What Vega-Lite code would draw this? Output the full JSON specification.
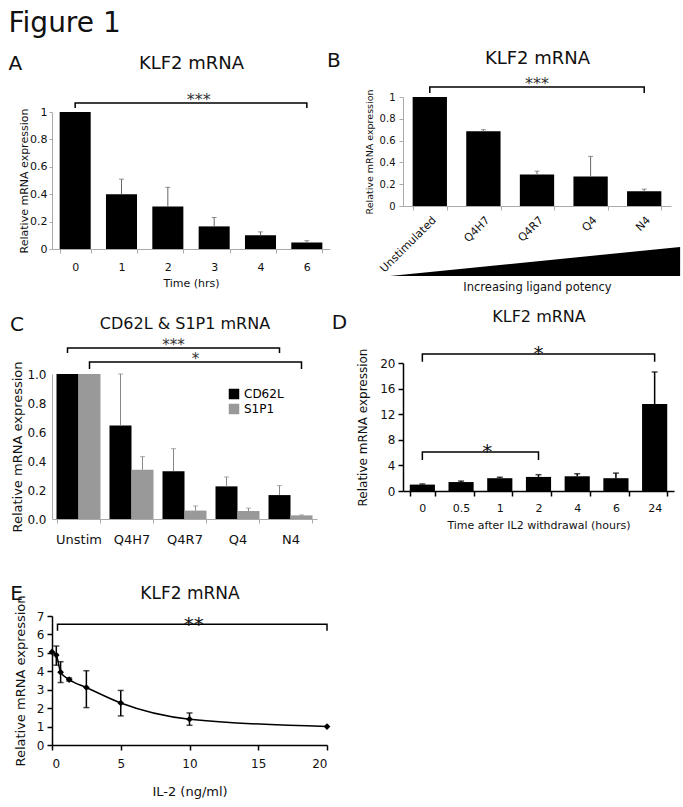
{
  "$schema": "https://vega.github.io/schema/vega-lite/v6.json",
  "background": "white",
  "padding": {"left": 8, "top": 10, "right": 5, "bottom": 5},
  "title": {"text": "Figure 1", "anchor": "start", "fontSize": 28, "offset": 11, "fontWeight": "normal", "color": "#111"},
  "config": {
    "font": "DejaVu Sans",
    "view": {"stroke": null},
    "axis": {"grid": false, "titleFontWeight": "normal", "labelColor": "#111", "titleColor": "#111", "domainColor": "#aaaaaa", "tickColor": "#aaaaaa", "labelOverlap": false},
    "title": {"fontWeight": "normal", "color": "#111"}
  },
  "datasets": {
    "a": [{"t": "0", "v": 1.0}, {"t": "1", "v": 0.40, "hi": 0.51}, {"t": "2", "v": 0.31, "hi": 0.45}, {"t": "3", "v": 0.165, "hi": 0.23}, {"t": "4", "v": 0.10, "hi": 0.125}, {"t": "6", "v": 0.048, "hi": 0.06}],
    "aBr": [{"t": "0", "v": 1.03, "o": 1}, {"t": "0", "v": 1.066, "o": 2}, {"t": "6", "v": 1.066, "o": 3}, {"t": "6", "v": 1.03, "o": 4}],
    "aTx": [{"t": "3", "v": 1.066, "s": "***"}],
    "b": [{"t": "Unstimulated", "v": 1.0}, {"t": "Q4H7", "v": 0.685, "hi": 0.70}, {"t": "Q4R7", "v": 0.29, "hi": 0.32}, {"t": "Q4", "v": 0.27, "hi": 0.455}, {"t": "N4", "v": 0.135, "hi": 0.155}],
    "bBr": [{"t": "Unstimulated", "v": 1.037, "o": 1}, {"t": "Unstimulated", "v": 1.092, "o": 2}, {"t": "N4", "v": 1.092, "o": 3}, {"t": "N4", "v": 1.037, "o": 4}],
    "bTx": [{"t": "Q4R7", "v": 1.092, "s": "***"}],
    "tri": [{"p": -0.0485, "top": -0.642, "bot": -0.642}, {"p": 1.034, "top": -0.376, "bot": -0.642}],
    "c": [
      {"g": "Unstim", "s": "CD62L", "v": 1.0}, {"g": "Q4H7", "s": "CD62L", "v": 0.645, "hi": 1.0}, {"g": "Q4R7", "s": "CD62L", "v": 0.33, "hi": 0.485}, {"g": "Q4", "s": "CD62L", "v": 0.225, "hi": 0.29}, {"g": "N4", "s": "CD62L", "v": 0.165, "hi": 0.23},
      {"g": "Unstim", "s": "S1P1", "v": 1.0}, {"g": "Q4H7", "s": "S1P1", "v": 0.34, "hi": 0.43}, {"g": "Q4R7", "s": "S1P1", "v": 0.058, "hi": 0.09}, {"g": "Q4", "s": "S1P1", "v": 0.055, "hi": 0.075}, {"g": "N4", "s": "S1P1", "v": 0.025, "hi": 0.028}
    ],
    "cBr": [
      {"b": 1, "g": "Unstim", "s": "CD62L", "v": 1.145, "o": 1}, {"b": 1, "g": "Unstim", "s": "CD62L", "v": 1.179, "o": 2}, {"b": 1, "g": "N4", "s": "CD62L", "v": 1.179, "o": 3}, {"b": 1, "g": "N4", "s": "CD62L", "v": 1.145, "o": 4},
      {"b": 2, "g": "Unstim", "s": "S1P1", "v": 1.034, "o": 1}, {"b": 2, "g": "Unstim", "s": "S1P1", "v": 1.083, "o": 2}, {"b": 2, "g": "N4", "s": "S1P1", "v": 1.083, "o": 3}, {"b": 2, "g": "N4", "s": "S1P1", "v": 1.034, "o": 4}
    ],
    "cTx": [{"g": "Q4R7", "s": "CD62L", "v": 1.179, "x": "***"}, {"g": "Q4R7", "s": "S1P1", "v": 1.083, "x": "*"}],
    "d": [{"t": "0", "v": 1.0, "hi": 1.1}, {"t": "0.5", "v": 1.4, "hi": 1.55}, {"t": "1", "v": 2.0, "hi": 2.15}, {"t": "2", "v": 2.2, "hi": 2.55}, {"t": "4", "v": 2.3, "hi": 2.7}, {"t": "6", "v": 2.0, "hi": 2.8}, {"t": "24", "v": 13.6, "hi": 18.6}],
    "dBr": [
      {"b": 1, "t": "0", "v": 20.2, "o": 1}, {"b": 1, "t": "0", "v": 21.4, "o": 2}, {"b": 1, "t": "24", "v": 21.4, "o": 3}, {"b": 1, "t": "24", "v": 20.2, "o": 4},
      {"b": 2, "t": "0", "v": 4.85, "o": 1}, {"b": 2, "t": "0", "v": 6.1, "o": 2}, {"b": 2, "t": "2", "v": 6.1, "o": 3}, {"b": 2, "t": "2", "v": 4.85, "o": 4}
    ],
    "dTx1": [{"t": "2", "v": 21.4, "s": "*"}],
    "dTx2": [{"t": "1", "v": 6.1, "s": "*"}],
    "e": [
      {"x": 0, "v": 5.05}, {"x": 0.3125, "v": 4.88, "lo": 4.33, "hi": 5.37}, {"x": 0.625, "v": 3.95, "lo": 3.39, "hi": 4.52}, {"x": 1.25, "v": 3.55, "lo": 3.47, "hi": 3.64},
      {"x": 2.5, "v": 3.12, "lo": 2.03, "hi": 4.03}, {"x": 5, "v": 2.28, "lo": 1.58, "hi": 2.96}, {"x": 10, "v": 1.40, "lo": 1.07, "hi": 1.74}, {"x": 20, "v": 1.0}
    ],
    "eBr": [{"x": 0.4, "v": 6.2, "o": 1}, {"x": 0.4, "v": 6.55, "o": 2}, {"x": 20, "v": 6.55, "o": 3}, {"x": 20, "v": 6.2, "o": 4}],
    "eTx": [{"x": 10.3, "v": 6.55, "s": "**"}]
  },
  "columns": 2,
  "bounds": "flush",
  "align": "each",
  "spacing": {"row": 97, "column": 73},
  "concat": [
    {
      "width": 278, "height": 152,
      "title": {"text": "A", "anchor": "start", "frame": "bounds", "fontSize": 20, "offset": -20, "dx": -10},
      "layer": [
        {"data": {"name": "a"}, "mark": {"type": "bar", "color": "black"},
         "encoding": {
           "x": {"field": "t", "type": "ordinal", "scale": {"domain": ["0", "1", "2", "3", "4", "6"], "paddingInner": 0.33, "paddingOuter": 0.165},
                 "axis": {"orient": "bottom", "title": "Time (hrs)", "labelAngle": 0, "labelFontSize": 11, "titleFontSize": 11, "tickBand": "extent", "tickSize": 4, "labelPadding": 8, "titlePadding": 5}},
           "y": {"field": "v", "type": "quantitative", "title": "Relative mRNA expression", "scale": {"domain": [0, 1], "range": [152, 15]},
                 "axis": {"values": [0, 0.2, 0.4, 0.6, 0.8, 1], "format": "~g", "labelFontSize": 11, "titleFontSize": 11, "tickSize": 3, "labelPadding": 2, "titlePadding": 0}}}},
        {"data": {"name": "a"}, "transform": [{"filter": "isValid(datum.hi)"}], "mark": {"type": "rule", "color": "#666666", "strokeWidth": 1},
         "encoding": {"x": {"field": "t", "type": "ordinal", "axis": null}, "y": {"field": "v", "type": "quantitative", "title": "Relative mRNA expression", "axis": {"values": [0, 0.2, 0.4, 0.6, 0.8, 1], "format": "~g", "labelFontSize": 11, "titleFontSize": 11, "tickSize": 3, "labelPadding": 2, "titlePadding": 0}}, "y2": {"field": "hi"}}},
        {"data": {"name": "a"}, "transform": [{"filter": "isValid(datum.hi)"}], "mark": {"type": "tick", "orient": "horizontal", "color": "#666666", "thickness": 1, "size": 5},
         "encoding": {"x": {"field": "t", "type": "ordinal", "axis": null}, "y": {"field": "hi", "type": "quantitative", "title": "Relative mRNA expression", "axis": {"values": [0, 0.2, 0.4, 0.6, 0.8, 1], "format": "~g", "labelFontSize": 11, "titleFontSize": 11, "tickSize": 3, "labelPadding": 2, "titlePadding": 0}}}},
        {"data": {"name": "aBr"}, "mark": {"type": "line", "color": "black", "strokeWidth": 1.5},
         "encoding": {"x": {"field": "t", "type": "ordinal", "axis": null}, "y": {"field": "v", "type": "quantitative", "title": "Relative mRNA expression", "axis": {"values": [0, 0.2, 0.4, 0.6, 0.8, 1], "format": "~g", "labelFontSize": 11, "titleFontSize": 11, "tickSize": 3, "labelPadding": 2, "titlePadding": 0}}, "order": {"field": "o"}}},
        {"data": {"name": "aTx"}, "mark": {"type": "text", "fontSize": 16, "baseline": "alphabetic", "dy": 2, "color": "#333333"},
         "encoding": {"x": {"field": "t", "type": "ordinal", "bandPosition": 0,
                            "axis": {"orient": "top", "title": "KLF2 mRNA", "labels": false, "ticks": false, "domain": false, "titleFontSize": 18, "titlePadding": 25}},
                      "y": {"field": "v", "type": "quantitative", "title": "Relative mRNA expression", "axis": {"values": [0, 0.2, 0.4, 0.6, 0.8, 1], "format": "~g", "labelFontSize": 11, "titleFontSize": 11, "tickSize": 3, "labelPadding": 2, "titlePadding": 0}}, "text": {"field": "s"}}}
      ],
      "resolve": {"axis": {"x": "independent"}}
    },
    {
      "width": 268, "height": 109,
      "title": {"text": "B", "anchor": "start", "frame": "bounds", "fontSize": 20, "offset": -22, "dx": -37},
      "layer": [
        {"data": {"name": "b"}, "mark": {"type": "bar", "color": "black"},
         "encoding": {
           "x": {"field": "t", "type": "ordinal", "scale": {"domain": ["Unstimulated", "Q4H7", "Q4R7", "Q4", "N4"], "paddingInner": 0.36, "paddingOuter": 0.18},
                 "axis": {"orient": "bottom", "title": "Increasing ligand potency", "labelAngle": -45, "labelFontSize": 11, "titleFontSize": 11.5, "tickBand": "extent", "tickSize": 4, "labelPadding": 4, "titlePadding": 8}},
           "y": {"field": "v", "type": "quantitative", "title": "Relative mRNA expression", "scale": {"domain": [0, 1]},
                 "axis": {"values": [0, 0.2, 0.4, 0.6, 0.8, 1], "format": "~g", "labelFontSize": 10, "titleFontSize": 9.5, "tickSize": 4, "labelPadding": 4, "titlePadding": 5}}}},
        {"data": {"name": "b"}, "transform": [{"filter": "isValid(datum.hi)"}], "mark": {"type": "rule", "color": "#666666", "strokeWidth": 1},
         "encoding": {"x": {"field": "t", "type": "ordinal", "scale": {"domain": ["Unstimulated", "Q4H7", "Q4R7", "Q4", "N4"], "paddingInner": 0.36, "paddingOuter": 0.18}, "axis": null}, "y": {"field": "v", "type": "quantitative", "title": "Relative mRNA expression", "axis": {"values": [0, 0.2, 0.4, 0.6, 0.8, 1], "format": "~g", "labelFontSize": 10, "titleFontSize": 9.5, "tickSize": 4, "labelPadding": 4, "titlePadding": 5}}, "y2": {"field": "hi"}}},
        {"data": {"name": "b"}, "transform": [{"filter": "isValid(datum.hi)"}], "mark": {"type": "tick", "orient": "horizontal", "color": "#666666", "thickness": 1, "size": 5},
         "encoding": {"x": {"field": "t", "type": "ordinal", "scale": {"domain": ["Unstimulated", "Q4H7", "Q4R7", "Q4", "N4"], "paddingInner": 0.36, "paddingOuter": 0.18}, "axis": null}, "y": {"field": "hi", "type": "quantitative", "title": "Relative mRNA expression", "axis": {"values": [0, 0.2, 0.4, 0.6, 0.8, 1], "format": "~g", "labelFontSize": 10, "titleFontSize": 9.5, "tickSize": 4, "labelPadding": 4, "titlePadding": 5}}}},
        {"data": {"name": "bBr"}, "mark": {"type": "line", "color": "black", "strokeWidth": 1.5},
         "encoding": {"x": {"field": "t", "type": "ordinal", "scale": {"domain": ["Unstimulated", "Q4H7", "Q4R7", "Q4", "N4"], "paddingInner": 0.36, "paddingOuter": 0.18}, "axis": null}, "y": {"field": "v", "type": "quantitative", "title": "Relative mRNA expression", "axis": {"values": [0, 0.2, 0.4, 0.6, 0.8, 1], "format": "~g", "labelFontSize": 10, "titleFontSize": 9.5, "tickSize": 4, "labelPadding": 4, "titlePadding": 5}}, "order": {"field": "o"}}},
        {"data": {"name": "bTx"}, "mark": {"type": "text", "fontSize": 16, "baseline": "alphabetic", "dy": 2, "color": "#333333"},
         "encoding": {"x": {"field": "t", "type": "ordinal", "scale": {"domain": ["Unstimulated", "Q4H7", "Q4R7", "Q4", "N4"], "paddingInner": 0.36, "paddingOuter": 0.18}, "axis": null}, "y": {"field": "v", "type": "quantitative", "title": "Relative mRNA expression", "axis": {"values": [0, 0.2, 0.4, 0.6, 0.8, 1], "format": "~g", "labelFontSize": 10, "titleFontSize": 9.5, "tickSize": 4, "labelPadding": 4, "titlePadding": 5}}, "text": {"field": "s"}}},
        {"data": {"name": "tri"}, "mark": {"type": "area", "color": "black"},
         "encoding": {"x": {"field": "p", "type": "quantitative", "scale": {"domain": [0, 1]},
                            "axis": {"orient": "top", "title": "KLF2 mRNA", "labels": false, "ticks": false, "domain": false, "titleFontSize": 18, "titlePadding": 30}},
                      "y": {"field": "top", "type": "quantitative", "title": "Relative mRNA expression", "axis": {"values": [0, 0.2, 0.4, 0.6, 0.8, 1], "format": "~g", "labelFontSize": 10, "titleFontSize": 9.5, "tickSize": 4, "labelPadding": 4, "titlePadding": 5}}, "y2": {"field": "bot"}}}
      ],
      "resolve": {"scale": {"x": "independent"}, "axis": {"x": "independent"}}
    },
    {
      "width": 265, "height": 173,
      "title": {"text": "C", "anchor": "start", "frame": "bounds", "fontSize": 20, "offset": -20, "dx": -2},
      "layer": [
        {"data": {"name": "c"}, "mark": {"type": "bar"},
         "encoding": {
           "x": {"field": "g", "type": "ordinal", "scale": {"domain": ["Unstim", "Q4H7", "Q4R7", "Q4", "N4"], "paddingInner": 0.17, "paddingOuter": 0.085},
                 "axis": {"orient": "bottom", "title": null, "labelAngle": 0, "labelFontSize": 13, "tickBand": "extent", "tickSize": 4, "labelPadding": 10}},
           "xOffset": {"field": "s", "type": "nominal", "scale": {"domain": ["CD62L", "S1P1"], "paddingInner": 0, "paddingOuter": 0}},
           "y": {"field": "v", "type": "quantitative", "title": "Relative mRNA expression", "scale": {"domain": [0, 1], "range": [173, 28]},
                 "axis": {"values": [0, 0.2, 0.4, 0.6, 0.8, 1], "format": ".1f", "labelFontSize": 12, "titleFontSize": 13, "ticks": false, "labelPadding": 6, "titlePadding": 2}},
           "color": {"field": "s", "type": "nominal", "scale": {"domain": ["CD62L", "S1P1"], "range": ["#000000", "#999999"]},
                     "legend": {"title": null, "orient": "none", "legendX": 176, "legendY": 291, "symbolType": "square", "symbolSize": 110, "labelFontSize": 12, "rowPadding": 3}}}},
        {"data": {"name": "c"}, "transform": [{"filter": "isValid(datum.hi)"}], "mark": {"type": "rule", "color": "#888888", "strokeWidth": 1},
         "encoding": {"x": {"field": "g", "type": "ordinal", "axis": null}, "xOffset": {"field": "s", "type": "nominal"}, "y": {"field": "v", "type": "quantitative", "title": "Relative mRNA expression", "axis": {"values": [0, 0.2, 0.4, 0.6, 0.8, 1], "format": ".1f", "labelFontSize": 12, "titleFontSize": 13, "ticks": false, "labelPadding": 6, "titlePadding": 2}}, "y2": {"field": "hi"}}},
        {"data": {"name": "c"}, "transform": [{"filter": "isValid(datum.hi)"}], "mark": {"type": "tick", "orient": "horizontal", "color": "#888888", "thickness": 1, "size": 5},
         "encoding": {"x": {"field": "g", "type": "ordinal", "axis": null}, "xOffset": {"field": "s", "type": "nominal"}, "y": {"field": "hi", "type": "quantitative", "title": "Relative mRNA expression", "axis": {"values": [0, 0.2, 0.4, 0.6, 0.8, 1], "format": ".1f", "labelFontSize": 12, "titleFontSize": 13, "ticks": false, "labelPadding": 6, "titlePadding": 2}}}},
        {"data": {"name": "cBr"}, "mark": {"type": "line", "color": "black", "strokeWidth": 1.5},
         "encoding": {"x": {"field": "g", "type": "ordinal", "axis": null}, "xOffset": {"field": "s", "type": "nominal"}, "y": {"field": "v", "type": "quantitative", "title": "Relative mRNA expression", "axis": {"values": [0, 0.2, 0.4, 0.6, 0.8, 1], "format": ".1f", "labelFontSize": 12, "titleFontSize": 13, "ticks": false, "labelPadding": 6, "titlePadding": 2}}, "detail": {"field": "b"}, "order": {"field": "o"}}},
        {"data": {"name": "cTx"}, "mark": {"type": "text", "fontSize": 15, "baseline": "alphabetic", "dy": 2, "color": "#333333"},
         "encoding": {"x": {"field": "g", "type": "ordinal",
                            "axis": {"orient": "top", "title": "CD62L & S1P1 mRNA", "labels": false, "ticks": false, "domain": false, "titleFontSize": 16, "titlePadding": 15}},
                      "xOffset": {"field": "s", "type": "nominal"},
                      "y": {"field": "v", "type": "quantitative", "title": "Relative mRNA expression", "axis": {"values": [0, 0.2, 0.4, 0.6, 0.8, 1], "format": ".1f", "labelFontSize": 12, "titleFontSize": 13, "ticks": false, "labelPadding": 6, "titlePadding": 2}}, "text": {"field": "x"}}}
      ],
      "resolve": {"axis": {"x": "independent"}}
    },
    {
      "width": 271, "height": 145,
      "title": {"text": "D", "anchor": "start", "frame": "bounds", "fontSize": 20, "offset": -25, "dx": -25},
      "layer": [
        {"data": {"name": "d"}, "mark": {"type": "bar", "color": "black"},
         "encoding": {
           "x": {"field": "t", "type": "ordinal", "scale": {"domain": ["0", "0.5", "1", "2", "4", "6", "24"], "paddingInner": 0.35, "paddingOuter": 0.175},
                 "axis": {"orient": "bottom", "title": "Time after IL2 withdrawal (hours)", "labelAngle": 0, "labelFontSize": 11, "titleFontSize": 11, "tickBand": "extent", "tickSize": 5, "labelPadding": 6, "titlePadding": 6, "domainColor": "black", "tickColor": "black", "domainWidth": 1.5, "tickWidth": 1.5}},
           "y": {"field": "v", "type": "quantitative", "title": "Relative mRNA expression", "scale": {"domain": [0, 20], "range": [145, 17]},
                 "axis": {"values": [0, 4, 8, 12, 16, 20], "labelFontSize": 12, "titleFontSize": 12, "tickSize": 5, "labelPadding": 3, "titlePadding": 10, "domainColor": "black", "tickColor": "black", "domainWidth": 1.5, "tickWidth": 1.5}}}},
        {"data": {"name": "d"}, "mark": {"type": "rule", "color": "black", "strokeWidth": 1.5},
         "encoding": {"x": {"field": "t", "type": "ordinal", "axis": null}, "y": {"field": "v", "type": "quantitative", "title": "Relative mRNA expression", "axis": {"values": [0, 4, 8, 12, 16, 20], "labelFontSize": 12, "titleFontSize": 12, "tickSize": 5, "labelPadding": 3, "titlePadding": 10, "domainColor": "black", "tickColor": "black", "domainWidth": 1.5, "tickWidth": 1.5}}, "y2": {"field": "hi"}}},
        {"data": {"name": "d"}, "mark": {"type": "tick", "orient": "horizontal", "color": "black", "thickness": 1.5, "size": 6},
         "encoding": {"x": {"field": "t", "type": "ordinal", "axis": null}, "y": {"field": "hi", "type": "quantitative", "title": "Relative mRNA expression", "axis": {"values": [0, 4, 8, 12, 16, 20], "labelFontSize": 12, "titleFontSize": 12, "tickSize": 5, "labelPadding": 3, "titlePadding": 10, "domainColor": "black", "tickColor": "black", "domainWidth": 1.5, "tickWidth": 1.5}}}},
        {"data": {"name": "dBr"}, "mark": {"type": "line", "color": "black", "strokeWidth": 1.5},
         "encoding": {"x": {"field": "t", "type": "ordinal", "axis": null}, "y": {"field": "v", "type": "quantitative", "title": "Relative mRNA expression", "axis": {"values": [0, 4, 8, 12, 16, 20], "labelFontSize": 12, "titleFontSize": 12, "tickSize": 5, "labelPadding": 3, "titlePadding": 10, "domainColor": "black", "tickColor": "black", "domainWidth": 1.5, "tickWidth": 1.5}}, "detail": {"field": "b"}, "order": {"field": "o"}}},
        {"data": {"name": "dTx2"}, "mark": {"type": "text", "fontSize": 20, "baseline": "alphabetic", "dy": 6, "color": "#111111"},
         "encoding": {"x": {"field": "t", "type": "ordinal", "bandPosition": 0, "axis": null}, "y": {"field": "v", "type": "quantitative", "title": "Relative mRNA expression", "axis": {"values": [0, 4, 8, 12, 16, 20], "labelFontSize": 12, "titleFontSize": 12, "tickSize": 5, "labelPadding": 3, "titlePadding": 10, "domainColor": "black", "tickColor": "black", "domainWidth": 1.5, "tickWidth": 1.5}}, "text": {"field": "s"}}},
        {"data": {"name": "dTx1"}, "mark": {"type": "text", "fontSize": 20, "baseline": "alphabetic", "dy": 6, "color": "#111111"},
         "encoding": {"x": {"field": "t", "type": "ordinal",
                            "axis": {"orient": "top", "title": "KLF2 mRNA", "labels": false, "ticks": false, "domain": false, "titleFontSize": 16, "titlePadding": 22}},
                      "y": {"field": "v", "type": "quantitative", "title": "Relative mRNA expression", "axis": {"values": [0, 4, 8, 12, 16, 20], "labelFontSize": 12, "titleFontSize": 12, "tickSize": 5, "labelPadding": 3, "titlePadding": 10, "domainColor": "black", "tickColor": "black", "domainWidth": 1.5, "tickWidth": 1.5}}, "text": {"field": "s"}}}
      ],
      "resolve": {"axis": {"x": "independent"}}
    },
    {
      "width": 275, "height": 129,
      "title": {"text": "E", "anchor": "start", "frame": "bounds", "fontSize": 20, "offset": -20, "dx": -4},
      "layer": [
        {"data": {"name": "e"}, "transform": [{"filter": "isValid(datum.hi)"}], "mark": {"type": "rule", "color": "black", "strokeWidth": 1.5},
         "encoding": {
           "x": {"field": "x", "type": "quantitative", "scale": {"domain": [0, 20]},
                 "axis": {"orient": "bottom", "title": "IL-2 (ng/ml)", "values": [0, 5, 10, 15, 20], "labelFontSize": 12, "titleFontSize": 13, "tickSize": 5, "labelPadding": 8, "titlePadding": 16, "domainColor": "black", "tickColor": "black", "domainWidth": 1.5, "tickWidth": 1.5}},
           "y": {"field": "lo", "type": "quantitative", "title": "Relative mRNA expression", "scale": {"domain": [0, 7]},
                 "axis": {"values": [0, 1, 2, 3, 4, 5, 6, 7], "labelFontSize": 12, "titleFontSize": 13, "tickSize": 5, "labelPadding": 3, "titlePadding": 9, "domainColor": "black", "tickColor": "black", "domainWidth": 1.5, "tickWidth": 1.5}},
           "y2": {"field": "hi"}}},
        {"data": {"name": "e"}, "transform": [{"filter": "isValid(datum.hi)"}], "mark": {"type": "tick", "orient": "horizontal", "color": "black", "thickness": 1.5, "size": 6},
         "encoding": {"x": {"field": "x", "type": "quantitative", "axis": null}, "y": {"field": "hi", "type": "quantitative", "title": "Relative mRNA expression", "axis": {"values": [0, 1, 2, 3, 4, 5, 6, 7], "labelFontSize": 12, "titleFontSize": 13, "tickSize": 5, "labelPadding": 3, "titlePadding": 9, "domainColor": "black", "tickColor": "black", "domainWidth": 1.5, "tickWidth": 1.5}}}},
        {"data": {"name": "e"}, "transform": [{"filter": "isValid(datum.lo)"}], "mark": {"type": "tick", "orient": "horizontal", "color": "black", "thickness": 1.5, "size": 6},
         "encoding": {"x": {"field": "x", "type": "quantitative", "axis": null}, "y": {"field": "lo", "type": "quantitative", "title": "Relative mRNA expression", "axis": {"values": [0, 1, 2, 3, 4, 5, 6, 7], "labelFontSize": 12, "titleFontSize": 13, "tickSize": 5, "labelPadding": 3, "titlePadding": 9, "domainColor": "black", "tickColor": "black", "domainWidth": 1.5, "tickWidth": 1.5}}}},
        {"data": {"name": "e"}, "mark": {"type": "line", "color": "black", "strokeWidth": 1.5, "interpolate": "monotone"},
         "encoding": {"x": {"field": "x", "type": "quantitative", "axis": null}, "y": {"field": "v", "type": "quantitative", "title": "Relative mRNA expression", "axis": {"values": [0, 1, 2, 3, 4, 5, 6, 7], "labelFontSize": 12, "titleFontSize": 13, "tickSize": 5, "labelPadding": 3, "titlePadding": 9, "domainColor": "black", "tickColor": "black", "domainWidth": 1.5, "tickWidth": 1.5}}}},
        {"data": {"name": "e"}, "mark": {"type": "point", "shape": "diamond", "filled": true, "color": "black", "size": 45, "opacity": 1},
         "encoding": {"x": {"field": "x", "type": "quantitative", "axis": null}, "y": {"field": "v", "type": "quantitative", "title": "Relative mRNA expression", "axis": {"values": [0, 1, 2, 3, 4, 5, 6, 7], "labelFontSize": 12, "titleFontSize": 13, "tickSize": 5, "labelPadding": 3, "titlePadding": 9, "domainColor": "black", "tickColor": "black", "domainWidth": 1.5, "tickWidth": 1.5}}}},
        {"data": {"name": "eBr"}, "mark": {"type": "line", "color": "black", "strokeWidth": 1.5},
         "encoding": {"x": {"field": "x", "type": "quantitative", "axis": null}, "y": {"field": "v", "type": "quantitative", "title": "Relative mRNA expression", "axis": {"values": [0, 1, 2, 3, 4, 5, 6, 7], "labelFontSize": 12, "titleFontSize": 13, "tickSize": 5, "labelPadding": 3, "titlePadding": 9, "domainColor": "black", "tickColor": "black", "domainWidth": 1.5, "tickWidth": 1.5}}, "order": {"field": "o"}}},
        {"data": {"name": "eTx"}, "mark": {"type": "text", "fontSize": 20, "baseline": "alphabetic", "dy": 7, "color": "#111111"},
         "encoding": {"x": {"field": "x", "type": "quantitative",
                            "axis": {"orient": "top", "title": "KLF2 mRNA", "labels": false, "ticks": false, "domain": false, "titleFontSize": 17, "titlePadding": 14}},
                      "y": {"field": "v", "type": "quantitative", "title": "Relative mRNA expression", "axis": {"values": [0, 1, 2, 3, 4, 5, 6, 7], "labelFontSize": 12, "titleFontSize": 13, "tickSize": 5, "labelPadding": 3, "titlePadding": 9, "domainColor": "black", "tickColor": "black", "domainWidth": 1.5, "tickWidth": 1.5}}, "text": {"field": "s"}}}
      ],
      "resolve": {"axis": {"x": "independent"}}
    }
  ]
}
